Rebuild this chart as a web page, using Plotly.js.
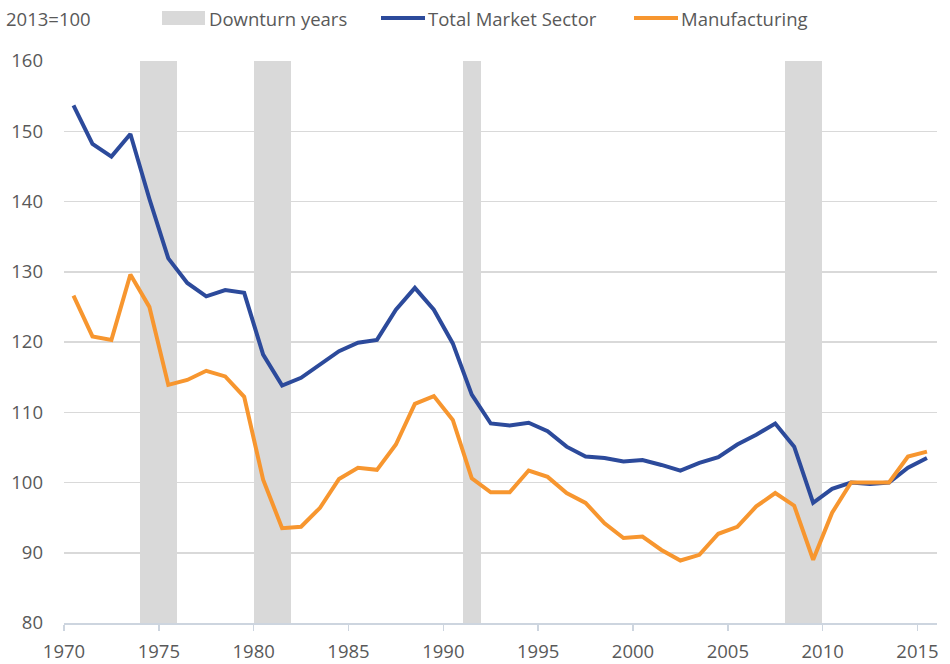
<!DOCTYPE html>
<html>
<head>
<meta charset="utf-8">
<script src="https://cdn.plot.ly/plotly-3.0.1.min.js"></script>
<style>html,body{margin:0;padding:0;background:#fff;}#chart{width:950px;height:664px;}</style>
</head>
<body>
<div id="chart"></div>
<script>
const years = [1970,1971,1972,1973,1974,1975,1976,1977,1978,1979,1980,1981,1982,1983,1984,1985,1986,1987,1988,1989,1990,1991,1992,1993,1994,1995,1996,1997,1998,1999,2000,2001,2002,2003,2004,2005,2006,2007,2008,2009,2010,2011,2012,2013,2014,2015];
const totalMarket = [153.7,148.2,146.4,149.6,140.4,131.9,128.4,126.5,127.4,127.0,118.2,113.8,114.9,116.8,118.7,119.9,120.3,124.6,127.7,124.6,119.8,112.5,108.4,108.1,108.5,107.3,105.1,103.7,103.5,103.0,103.2,102.5,101.7,102.8,103.6,105.4,106.8,108.4,105.1,97.1,99.1,100.0,99.8,100.0,102.1,103.5];
const manufacturing = [126.6,120.8,120.3,129.6,125.0,113.9,114.6,115.9,115.1,112.2,100.4,93.5,93.7,96.4,100.5,102.1,101.8,105.4,111.2,112.3,108.9,100.6,98.6,98.6,101.7,100.8,98.5,97.1,94.2,92.1,92.3,90.4,88.9,89.7,92.7,93.7,96.6,98.5,96.7,89.0,95.7,100.0,100.0,100.0,103.7,104.4];
const downturnStart = [1974,1980,1991,2008];
const downturnEnd = [1976,1982,1992,2010];
const xTicks = [1970,1975,1980,1985,1990,1995,2000,2005,2010,2015];
const yTicks = [80,90,100,110,120,130,140,150,160];
const seriesNames = ['Downturn years','Total Market Sector','Manufacturing'];
const unitLabel = '2013=100';

const yMin = 80, yMax = 160;
const textColor = '#595959';
const fontFam = '"Open Sans", "Noto Sans", sans-serif';
const fs = 18.5;

// data plotted at mid-year
const xMid = years.map(y => y + 0.5);

const bandTrace = {
  type: 'bar',
  x: downturnStart.map((s,i) => (s + downturnEnd[i]) / 2),
  width: downturnStart.map((s,i) => downturnEnd[i] - s - 0.05),
  y: downturnStart.map(() => yMax - yMin),
  base: yMin,
  marker: {color: '#d9d9d9', line: {width: 0}},
  name: seriesNames[0],
  showlegend: false,
  hoverinfo: 'skip'
};
const totalTrace = {
  type: 'scatter', mode: 'lines',
  x: xMid, y: totalMarket,
  line: {color: '#2c4a9b', width: 4},
  name: seriesNames[1], showlegend: false
};
const manuTrace = {
  type: 'scatter', mode: 'lines',
  x: xMid, y: manufacturing,
  line: {color: '#f7962f', width: 4},
  name: seriesNames[2], showlegend: false
};

// custom legend (paper coords)
const W = 873, H = 562, L = 64, T = 61;
const px = v => (v - L) / W;
const py = v => (T + H - v) / H;
const legY = 18;
const shapes = [
  {type:'rect', xref:'paper', yref:'paper', x0:px(162), x1:px(205), y0:py(25), y1:py(11), fillcolor:'#d9d9d9', line:{width:0}},
  {type:'line', xref:'paper', yref:'paper', x0:px(381), x1:px(425), y0:py(legY), y1:py(legY), line:{color:'#2c4a9b', width:4}},
  {type:'line', xref:'paper', yref:'paper', x0:px(634), x1:px(678), y0:py(legY), y1:py(legY), line:{color:'#f7962f', width:4}}
];
const annFont = {family: fontFam, size: fs, color: textColor};
const annotations = [
  {xref:'paper', yref:'paper', x:px(4), y:py(legY), xanchor:'left', yanchor:'middle', text:unitLabel, showarrow:false, font:annFont},
  {xref:'paper', yref:'paper', x:px(207), y:py(legY), xanchor:'left', yanchor:'middle', text:seriesNames[0], showarrow:false, font:annFont},
  {xref:'paper', yref:'paper', x:px(426), y:py(legY), xanchor:'left', yanchor:'middle', text:seriesNames[1], showarrow:false, font:annFont},
  {xref:'paper', yref:'paper', x:px(679), y:py(legY), xanchor:'left', yanchor:'middle', text:seriesNames[2], showarrow:false, font:annFont}
];

const layout = {
  width: 950, height: 664,
  margin: {l: L, r: 950 - L - W, t: T, b: 664 - T - H, pad: 0},
  paper_bgcolor: '#ffffff', plot_bgcolor: '#ffffff',
  font: {family: fontFam, size: fs, color: textColor},
  showlegend: false,
  bargap: 0,
  xaxis: {
    range: [1970, 2016.03],
    tickvals: xTicks, ticktext: xTicks.map(String),
    showgrid: false, zeroline: false,
    showline: true, linecolor: '#cdd5df', linewidth: 1.5,
    ticks: 'outside', ticklen: 6, tickcolor: '#cdd5df', tickwidth: 1.5,
    ticklabelstandoff: 5,
    tickfont: {family: fontFam, size: fs, color: textColor},
    fixedrange: true
  },
  yaxis: {
    range: [yMin, yMax],
    tickvals: yTicks, ticktext: yTicks.map(String),
    showgrid: true, gridcolor: '#d9d9d9', gridwidth: 1.5,
    zeroline: false, showline: false, ticks: '',
    ticklabelstandoff: 20,
    tickfont: {family: fontFam, size: fs, color: textColor},
    fixedrange: true
  },
  shapes: shapes,
  annotations: annotations
};

Plotly.newPlot('chart', [bandTrace, totalTrace, manuTrace], layout, {displayModeBar: false, staticPlot: true});
</script>
</body>
</html>
